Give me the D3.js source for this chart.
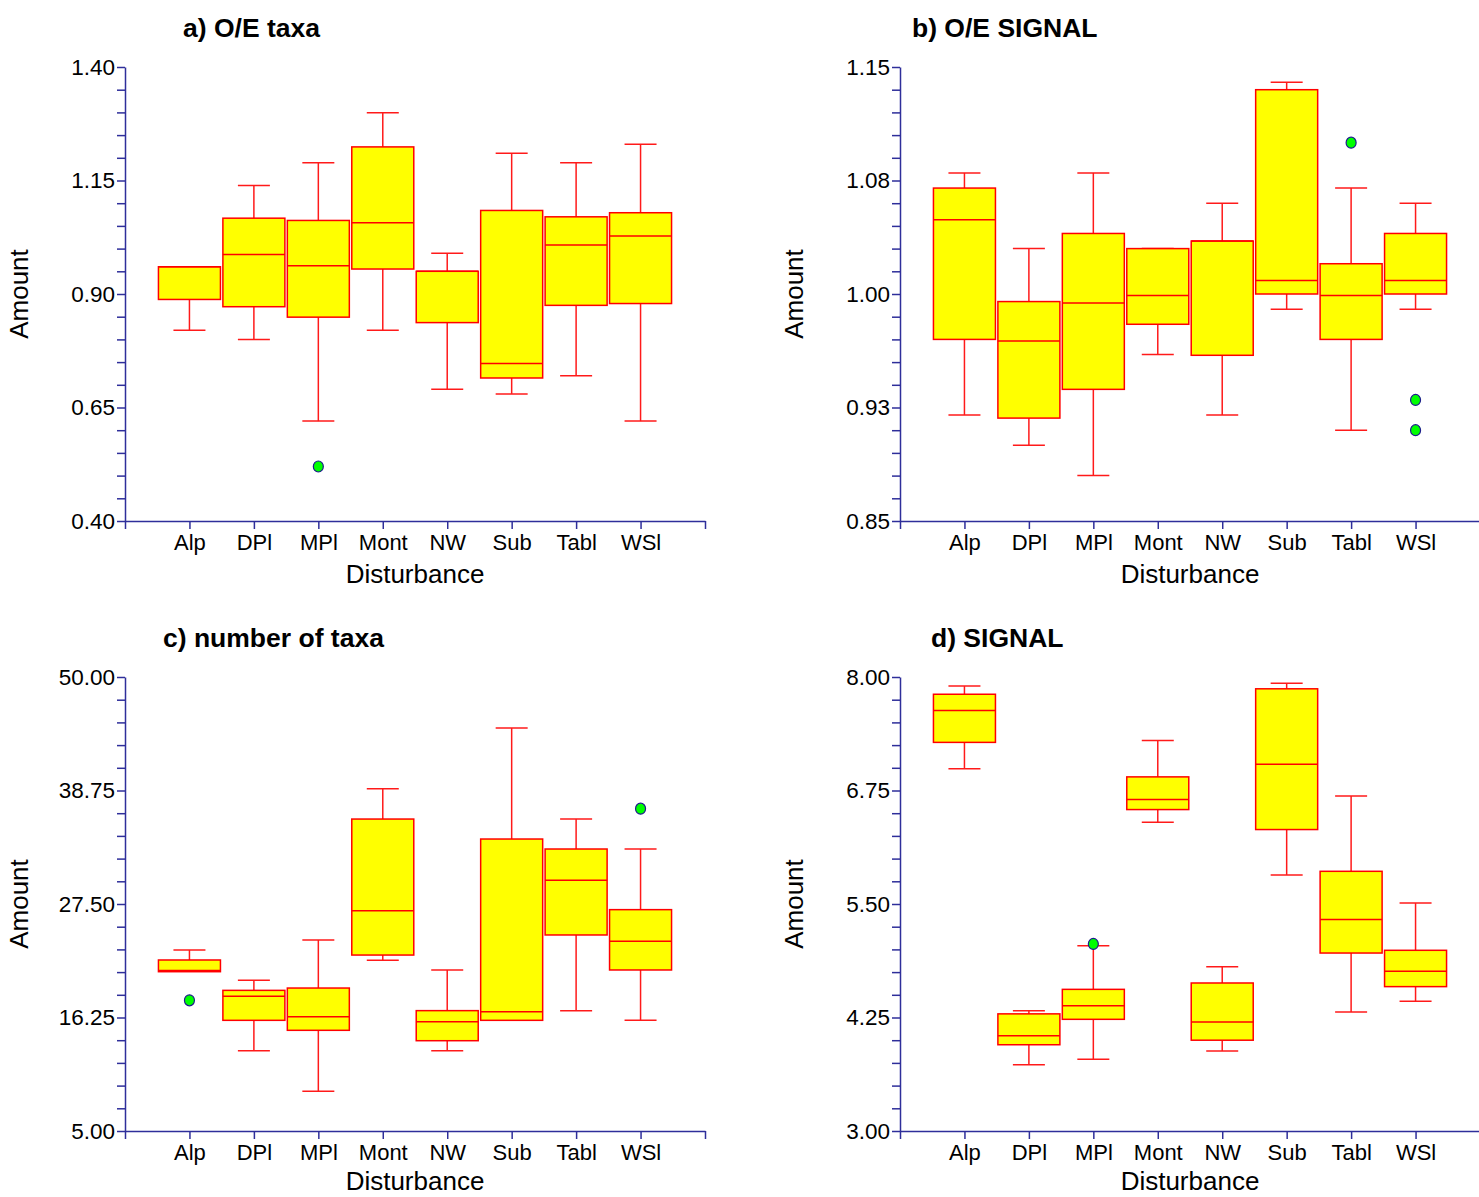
<!DOCTYPE html>
<html>
<head>
<meta charset="utf-8">
<script src="https://cdn.jsdelivr.net/npm/d3@7"></script>
<style>
  html, body { margin: 0; padding: 0; background: #fff; }
  svg { display: block; }
  text { font-family: "Liberation Sans", Arial, sans-serif; fill: #000; }
</style>
</head>
<body>
<svg id="chart" width="1479" height="1197"></svg>
<script>
// ---------- DATA ----------
const categories = ["Alp", "DPl", "MPl", "Mont", "NW", "Sub", "Tabl", "WSl"];

// a) O/E taxa
const oeTaxaLow    = [0.82, 0.80, 0.62, 0.82, 0.69, 0.68, 0.72, 0.62];
const oeTaxaQ1     = [0.888, 0.872, 0.849, 0.955, 0.837, 0.715, 0.875, 0.879];
const oeTaxaMedian = [0.96, 0.987, 0.962, 1.057, 0.95, 0.747, 1.008, 1.028];
const oeTaxaQ3     = [0.96, 1.067, 1.062, 1.224, 0.95, 1.084, 1.070, 1.079];
const oeTaxaHigh   = [0.96, 1.139, 1.189, 1.299, 0.99, 1.210, 1.189, 1.230];
const oeTaxaOutliers = [["MPl", 0.52]];
const oeTaxaTicks  = ["0.40", "0.65", "0.90", "1.15", "1.40"];

// b) O/E SIGNAL
const oeSignalLow    = [0.920, 0.900, 0.880, 0.960, 0.920, 0.990, 0.910, 0.990];
const oeSignalQ1     = [0.970, 0.918, 0.937, 0.980, 0.9595, 1.000, 0.970, 1.000];
const oeSignalMedian = [1.049, 0.969, 0.994, 0.999, 1.035, 1.009, 0.999, 1.009];
const oeSignalQ3     = [1.070, 0.995, 1.040, 1.030, 1.035, 1.135, 1.020, 1.040];
const oeSignalHigh   = [1.080, 1.030, 1.080, 1.030, 1.060, 1.140, 1.070, 1.060];
const oeSignalOutliers = [["Tabl", 1.100], ["WSl", 0.930], ["WSl", 0.910]];
const oeSignalTicks  = ["0.85", "0.93", "1.00", "1.08", "1.15"];

// c) number of taxa
const nTaxaLow    = [20.9, 12.96, 8.93, 21.92, 12.96, 15.97, 16.93, 15.97];
const nTaxaQ1     = [20.79, 15.97, 14.98, 22.44, 13.95, 15.97, 24.43, 20.96];
const nTaxaMedian = [20.92, 18.35, 16.33, 26.84, 15.84, 16.83, 29.85, 23.80];
const nTaxaQ3     = [21.95, 18.94, 19.17, 35.92, 16.93, 33.94, 32.95, 26.94];
const nTaxaHigh   = [22.94, 19.93, 23.93, 38.93, 20.96, 44.94, 35.92, 32.95];
const nTaxaOutliers = [["Alp", 17.95], ["WSl", 36.95]];
const nTaxaTicks  = ["5.00", "16.25", "27.50", "38.75", "50.00"];

// d) SIGNAL
const signalLow    = [6.99, 3.73, 3.79, 6.40, 3.88, 5.82, 4.31, 4.43];
const signalQ1     = [7.28, 3.95, 4.23, 6.54, 4.00, 6.32, 4.96, 4.59];
const signalMedian = [7.63, 4.05, 4.38, 6.65, 4.20, 7.04, 5.33, 4.76];
const signalQ3     = [7.81, 4.29, 4.56, 6.90, 4.63, 7.87, 5.86, 4.99];
const signalHigh   = [7.90, 4.325, 5.04, 7.30, 4.81, 7.93, 6.69, 5.51];
const signalOutliers = [["MPl", 5.06]];
const signalTicks  = ["3.00", "4.25", "5.50", "6.75", "8.00"];

// ---------- DRAWING ----------
const AXIS = "#2e2e9a";
const FONT = "'Liberation Sans', Arial, sans-serif";
const svg = d3.select("#chart");

const panels = [
  { title: "a) O/E taxa", titleX: 183, ox: 125, oy: 67, min: 0.40, max: 1.40, xTitleDy: 62,
    low: oeTaxaLow, q1: oeTaxaQ1, med: oeTaxaMedian, q3: oeTaxaQ3, high: oeTaxaHigh,
    out: oeTaxaOutliers, ticks: oeTaxaTicks },
  { title: "b) O/E SIGNAL", titleX: 912, ox: 900, oy: 67, min: 0.85, max: 1.15, xTitleDy: 62,
    low: oeSignalLow, q1: oeSignalQ1, med: oeSignalMedian, q3: oeSignalQ3, high: oeSignalHigh,
    out: oeSignalOutliers, ticks: oeSignalTicks },
  { title: "c) number of taxa", titleX: 163, ox: 125, oy: 677, min: 5, max: 50, xTitleDy: 59,
    low: nTaxaLow, q1: nTaxaQ1, med: nTaxaMedian, q3: nTaxaQ3, high: nTaxaHigh,
    out: nTaxaOutliers, ticks: nTaxaTicks },
  { title: "d) SIGNAL", titleX: 931, ox: 900, oy: 677, min: 3, max: 8, xTitleDy: 59,
    low: signalLow, q1: signalQ1, med: signalMedian, q3: signalQ3, high: signalHigh,
    out: signalOutliers, ticks: signalTicks }
];

const plotH = 454, plotW = 580, boxW = 62, capW = 32;

panels.forEach(p => {
  const g = svg.append("g");
  const y = d3.scaleLinear().domain([p.min, p.max]).range([p.oy + plotH, p.oy]);
  const x = d3.scaleLinear().domain([0, 9]).range([p.ox, p.ox + plotW]);
  const step = (p.max - p.min) / 4;
  const major = d3.range(5).map(i => p.min + i * step);
  const minor = d3.range(21).map(i => p.min + i * step / 5).filter((d, i) => i % 5 !== 0);

  // minor ticks
  const yMinor = g.append("g").attr("transform", `translate(${p.ox},0)`)
    .call(d3.axisLeft(y).tickValues(minor).tickSize(8).tickFormat("").tickSizeOuter(0));
  yMinor.select(".domain").remove();
  yMinor.selectAll("line").attr("stroke", AXIS).attr("stroke-width", 1.5);

  // major ticks + labels
  const yAxis = g.append("g").attr("transform", `translate(${p.ox},0)`)
    .call(d3.axisLeft(y).tickValues(major).tickSize(8).tickPadding(2).tickSizeOuter(0)
      .tickFormat((d, i) => p.ticks[i]));
  yAxis.select(".domain").attr("stroke", AXIS).attr("stroke-width", 1.5);
  yAxis.selectAll("line").attr("stroke", AXIS).attr("stroke-width", 1.5);
  yAxis.selectAll("text").style("font-size", "22.5px").attr("fill", "#000")
    .style("font-family", FONT);

  const xAxis = g.append("g").attr("transform", `translate(0,${p.oy + plotH})`)
    .call(d3.axisBottom(x).tickValues(d3.range(10)).tickSize(8).tickPadding(5).tickSizeOuter(0)
      .tickFormat(d => categories[d - 1] || ""));
  xAxis.select(".domain").attr("stroke", AXIS).attr("stroke-width", 1.5);
  xAxis.selectAll("line").attr("stroke", AXIS).attr("stroke-width", 1.5);
  xAxis.selectAll("text").style("font-size", "22px").attr("fill", "#000")
    .style("font-family", FONT);

  // whiskers
  const data = categories.map((c, i) => ({ c, i, low: p.low[i], q1: p.q1[i], med: p.med[i], q3: p.q3[i], high: p.high[i] }));
  const wg = g.append("g").attr("stroke", "#ff1a1a").attr("stroke-width", 1.5);
  data.forEach(d => {
    const cx = x(d.i + 1);
    wg.append("line").attr("x1", cx).attr("x2", cx).attr("y1", y(d.q3)).attr("y2", y(d.high));
    wg.append("line").attr("x1", cx - capW / 2).attr("x2", cx + capW / 2).attr("y1", y(d.high)).attr("y2", y(d.high));
    wg.append("line").attr("x1", cx).attr("x2", cx).attr("y1", y(d.q1)).attr("y2", y(d.low));
    wg.append("line").attr("x1", cx - capW / 2).attr("x2", cx + capW / 2).attr("y1", y(d.low)).attr("y2", y(d.low));
  });

  // boxes
  g.append("g").selectAll("rect").data(data).join("rect")
    .attr("x", d => x(d.i + 1) - boxW / 2)
    .attr("width", boxW)
    .attr("y", d => y(Math.max(d.q1, d.q3)))
    .attr("height", d => Math.abs(y(d.q1) - y(d.q3)))
    .attr("fill", "#ffff00").attr("stroke", "#ff0000").attr("stroke-width", 1.5);

  // medians
  g.append("g").selectAll("line").data(data).join("line")
    .attr("x1", d => x(d.i + 1) - boxW / 2).attr("x2", d => x(d.i + 1) + boxW / 2)
    .attr("y1", d => y(d.med)).attr("y2", d => y(d.med))
    .attr("stroke", "#ff0000").attr("stroke-width", 1.5);

  // outliers
  g.append("g").selectAll("ellipse").data(p.out).join("ellipse")
    .attr("cx", d => x(categories.indexOf(d[0]) + 1))
    .attr("cy", d => y(d[1]))
    .attr("rx", 5).attr("ry", 5.5)
    .attr("fill", "#00ff00").attr("stroke", "#1c1c8c").attr("stroke-width", 1.2);

  // titles
  g.append("text").attr("x", p.titleX).attr("y", p.oy - 30)
    .style("font-size", "26.5px").style("font-weight", "bold").text(p.title);
  g.append("text").attr("text-anchor", "middle")
    .attr("transform", `translate(${p.ox - 97},${p.oy + plotH / 2}) rotate(-90)`)
    .style("font-size", "26px").text("Amount");
  g.append("text").attr("x", p.ox + plotW / 2).attr("y", p.oy + plotH + p.xTitleDy)
    .attr("text-anchor", "middle").style("font-size", "26px").text("Disturbance");
});
</script>
</body>
</html>
